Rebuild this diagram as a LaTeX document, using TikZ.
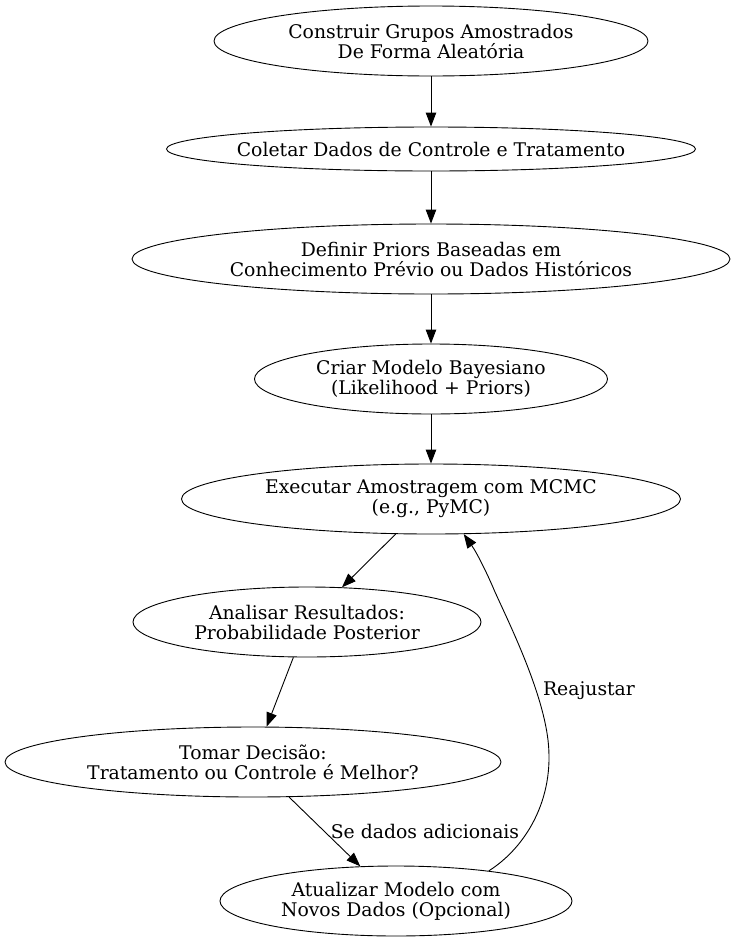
\documentclass[tikz,border=0pt]{standalone}
\usepackage{fontspec}
\setmainfont{DejaVu Serif}
\usetikzlibrary{arrows.meta,shapes.geometric}
\begin{document}
\begin{tikzpicture}[x=1pt,y=-1pt,
  every node/.style={font=\fontsize{18.8}{20}\selectfont},
  stage/.style={ellipse,draw,line width=0.9pt,inner xsep=-60pt,inner ysep=-10pt,align=center},
  flow/.style={line width=0.9pt,-{Triangle[length=14pt,width=10.5pt]}},
  lbl/.style={inner sep=0pt}]
\useasboundingbox (0,0) rectangle (736,943);
\node[stage,minimum width=434pt,minimum height=70pt] (n1) at (431,41) {Construir Grupos Amostrados\\De Forma Aleatória};
\node[stage,minimum width=529pt,minimum height=44pt] (n2) at (431,149) {Coletar Dados de Controle e Tratamento};
\node[stage,minimum width=598pt,minimum height=70pt] (n3) at (431,259) {Definir Priors Baseadas em\\Conhecimento Prévio ou Dados Históricos};
\node[stage,minimum width=353pt,minimum height=70pt] (n4) at (431,379) {Criar Modelo Bayesiano\\(Likelihood + Priors)};
\node[stage,minimum width=499pt,minimum height=70pt] (n5) at (431,499) {Executar Amostragem com MCMC\\(e.g., PyMC)};
\node[stage,minimum width=348pt,minimum height=70pt] (n6) at (307,622) {Analisar Resultados:\\Probabilidade Posterior};
\node[stage,minimum width=496pt,minimum height=70pt] (n7) at (253,762) {Tomar Decisão:\\Tratamento ou Controle é Melhor?};
\node[stage,minimum width=352pt,minimum height=70pt] (n8) at (396,901) {Atualizar Modelo com\\Novos Dados (Opcional)};

\draw[flow] (n1) -- (n2);
\draw[flow] (n2) -- (n3);
\draw[flow] (n3) -- (n4);
\draw[flow] (n4) -- (n5);
\draw[flow] (n5) -- (n6);
\draw[flow] (n6) -- (n7);
\draw[flow] (n7) -- (n8);
\draw[flow] (n8.18) .. controls (525,848) and (555,800) .. (548,740)
  .. controls (542,690) and (510,625) .. (495,592)
  .. controls (487,573) and (477,553) .. (n5.-47);

\node[lbl] (l1) at (425,831) {Se dados adicionais};
\node[lbl] (l2) at (589,691) {Reajustar};
\end{tikzpicture}
\end{document}
